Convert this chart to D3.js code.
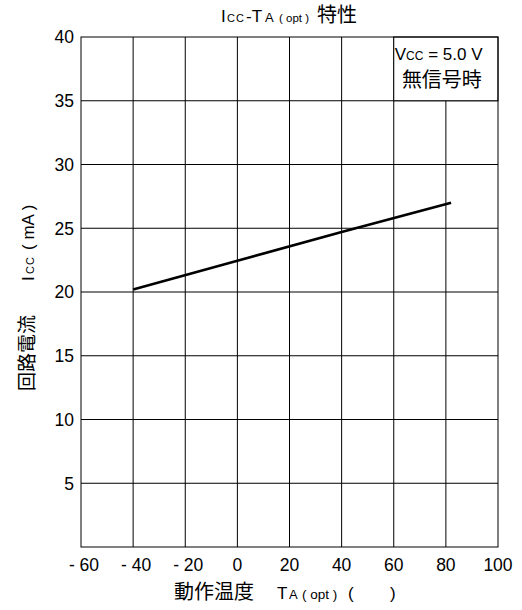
<!DOCTYPE html>
<html>
<head>
<meta charset="utf-8">
<script src="https://cdn.jsdelivr.net/npm/d3@7/dist/d3.min.js"></script>
<style>
  html, body { margin: 0; padding: 0; background: #fff; }
  svg { display: block; font-family: "Liberation Sans", Arial, "Noto Sans CJK JP", sans-serif; }
  .cjk { font-family: "Noto Sans CJK JP", sans-serif; }
</style>
</head>
<body>
<div id="chart"></div>
<script>
// Icc vs ambient temperature (no signal, Vcc = 5.0 V)
const xTicks = [-60, -40, -20, 0, 20, 40, 60, 80, 100];
const yTicks = [5, 10, 15, 20, 25, 30, 35, 40];
const tempC = [-40, 0, 40, 82];
const iccMA = [20.2, 22.45, 24.7, 27.0];

const W = 522, H = 610;
const margin = { top: 37, right: 24, bottom: 63, left: 81 };
const iw = W - margin.left - margin.right;
const ih = H - margin.top - margin.bottom;

const svg = d3.select("#chart").append("svg")
  .attr("width", W).attr("height", H);
const g = svg.append("g").attr("transform", `translate(${margin.left},${margin.top})`);

const x = d3.scaleLinear().domain([-60, 100]).range([0, iw]);
const y = d3.scaleLinear().domain([0, 40]).range([ih, 0]);

// grid
g.selectAll(".vgrid").data(xTicks.slice(1, -1)).enter().append("line")
  .attr("x1", d => x(d)).attr("x2", d => x(d))
  .attr("y1", 0).attr("y2", ih)
  .attr("stroke", "#000").attr("stroke-width", 1);
g.selectAll(".hgrid").data(yTicks.slice(0, -1)).enter().append("line")
  .attr("x1", 0).attr("x2", iw)
  .attr("y1", d => y(d)).attr("y2", d => y(d))
  .attr("stroke", "#000").attr("stroke-width", 1);

// condition box in the upper-right cells
g.append("rect")
  .attr("x", x(60)).attr("y", y(40))
  .attr("width", x(100) - x(60)).attr("height", y(35) - y(40))
  .attr("fill", "#fff").attr("stroke", "#000");
g.append("text")
  .attr("x", x(60) + 1).attr("y", y(40) + 23)
  .style("font-size", "17px")
  .call(t => {
    t.append("tspan").text("V");
    t.append("tspan").style("font-size", "12px").text("CC");
    t.append("tspan").text(" = 5.0 V");
  });
g.append("text").attr("class", "cjk")
  .attr("x", (x(60) + x(100)) / 2 - 4).attr("y", y(40) + 50)
  .attr("text-anchor", "middle")
  .style("font-size", "20px")
  .text("無信号時");

// frame
g.append("rect").attr("width", iw).attr("height", ih)
  .attr("fill", "none").attr("stroke", "#000");

// curve
const line = d3.line().x((d, i) => x(tempC[i])).y(d => y(d));
g.append("path").datum(iccMA)
  .attr("d", line)
  .attr("fill", "none").attr("stroke", "#000").attr("stroke-width", 2.6);

// tick labels
const fmt = d => d < 0 ? "- " + Math.abs(d) : String(d);
g.selectAll(".xt").data(xTicks).enter().append("text")
  .attr("x", d => x(d)).attr("y", ih + 24)
  .attr("dx", d => d < 0 ? 3 : 0)
  .attr("text-anchor", "middle")
  .style("font-size", "17.5px")
  .style("white-space", "pre")
  .text(fmt);
g.selectAll(".yt").data(yTicks).enter().append("text")
  .attr("x", -7).attr("y", d => y(d))
  .attr("dy", "0.36em")
  .attr("text-anchor", "end")
  .style("font-size", "17.5px")
  .text(fmt);

// title
svg.append("text")
  .attr("y", 22)
  .style("font-size", "17px")
  .style("white-space", "pre")
  .call(t => {
    t.append("tspan").attr("x", 221).text("I");
    t.append("tspan").attr("x", 227).style("font-size", "11px").style("letter-spacing", "1px").text("CC");
    t.append("tspan").attr("x", 246).text("-T");
    t.append("tspan").attr("x", 265).style("font-size", "13px").text("A");
    t.append("tspan").attr("x", 279).style("font-size", "11.5px").text("( opt )");
    t.append("tspan").attr("x", 317).attr("class", "cjk").style("font-size", "20px").text("特性");
  });

// x axis title
svg.append("text")
  .attr("y", 599)
  .style("font-size", "17px")
  .style("white-space", "pre")
  .call(t => {
    t.append("tspan").attr("x", 174).attr("class", "cjk").style("font-size", "20px").text("動作温度");
    t.append("tspan").attr("x", 277).text("T");
    t.append("tspan").attr("x", 289).style("font-size", "13px").text("A");
    t.append("tspan").attr("x", 302).style("font-size", "13.5px").text("( opt )");
    t.append("tspan").attr("x", 348).text("(");
    t.append("tspan").attr("x", 390).text(")");
  });

// y axis title (rotated; x runs upward from the bottom of the label)
svg.append("text")
  .attr("transform", "translate(34,391) rotate(-90)")
  .style("font-size", "17px")
  .style("white-space", "pre")
  .call(t => {
    t.append("tspan").attr("x", 0).attr("class", "cjk").style("font-size", "19px").text("回路電流");
    t.append("tspan").attr("x", 110).text("I");
    t.append("tspan").attr("x", 117).style("font-size", "11px").style("letter-spacing", "1px").text("CC");
    t.append("tspan").attr("x", 141).text("( mA )");
  });
</script>
</body>
</html>
